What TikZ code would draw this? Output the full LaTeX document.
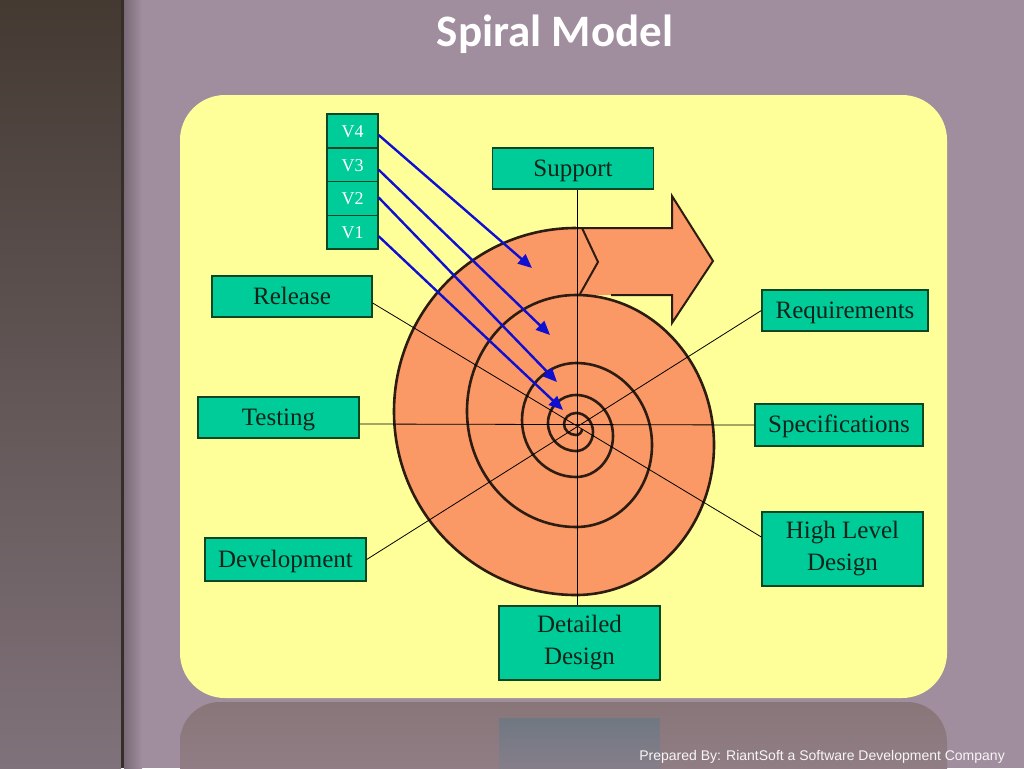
\documentclass[tikz,border=0pt]{standalone}
\usepackage{fontspec}
\setmainfont{Liberation Serif}
\newfontfamily\titlefont{Carlito}
\newfontfamily\footfont{Liberation Sans}
\definecolor{slide}{RGB}{160,141,157}
\definecolor{bandtop}{RGB}{68,58,50}
\definecolor{bandbot}{RGB}{128,114,122}
\definecolor{panel}{RGB}{255,255,153}
\definecolor{mirror}{RGB}{136,118,121}
\definecolor{mirrorlow}{RGB}{152,132,144}
\definecolor{mirrorbox}{RGB}{112,120,130}
\definecolor{boxfill}{RGB}{0,204,153}
\definecolor{boxline}{RGB}{10,70,35}
\definecolor{boxtext}{RGB}{15,35,25}
\definecolor{coilfill}{RGB}{250,152,102}
\definecolor{coilline}{RGB}{45,28,18}
\definecolor{vblue}{RGB}{15,15,210}
\usetikzlibrary{arrows.meta,calc}
\tikzset{
    phase/.style={
           rectangle,
           draw=boxline, line width=1.3pt,
           fill=boxfill,
           text=boxtext,
           minimum width=161pt,
           minimum height=41pt,
           inner sep=2pt,
           text height=18pt,
           text depth=3pt,
           align=center,
           font=\fontsize{25}{32}\selectfont,
           },
    twoline/.style={
           minimum height=74pt,
           text height=,
           text depth=,
           },
    ver/.style={
           phase,
           text=white,
           minimum width=51pt,
           minimum height=33.75pt,
           text height=12.5pt,
           text depth=0pt,
           font=\fontsize{18}{20}\selectfont,
           },
    spoke/.style={draw=black, line width=0.8pt},
    coil/.style={draw=coilline, line width=2.6pt},
    vline/.style={draw=vblue, line width=2.4pt, -{Triangle[length=14pt,width=12pt]}},
}
\newcommand{\PhSupport}{Support}
\newcommand{\PhReq}{Requirements}
\newcommand{\PhSpec}{Specifications}
\newcommand{\PhHld}{High Level\\Design}
\newcommand{\PhDd}{Detailed\\Design}
\newcommand{\PhDev}{Development}
\newcommand{\PhTest}{Testing}
\newcommand{\PhRel}{Release}

\begin{document}
\begin{tikzpicture}[x=1pt, y=-1pt]
  \useasboundingbox (0,0) rectangle (1024,768);
  % slide background
  \fill[slide] (0,0) rectangle (1024,768);
  \shade[top color=bandtop, bottom color=bandbot] (0,0) rectangle (121,768);
  \fill[bandtop!80!black] (121,0) rectangle (124,768);
  \shade[left color=slide!75!black, right color=slide] (124,0) rectangle (142,768);
  \fill[panel, rounded corners=45pt] (180,95) rectangle (947,698);
  \shade[top color=mirror, bottom color=mirrorlow, rounded corners=40pt] (180,702) rectangle (947,830);
  \shade[top color=mirrorbox, bottom color=mirrorlow!85!mirrorbox] (499,718) rectangle (660,800);

  \node[font=\titlefont\bfseries\fontsize{45}{54}\selectfont, text=white, anchor=base] (title) at (555,47) {Spiral Model};
  \node[font=\footfont\fontsize{14}{16}\selectfont, text=white!92!slide, anchor=base east, inner sep=0pt] (foot) at (1005,760)
       {Prepared By: RiantSoft a Software Development Company};

  % spiral and arrow
  \fill[coilfill] (576,228) arc[start angle=270, end angle=90, x radius=182, y radius=183.5]
                            arc[start angle=90, end angle=-90, x radius=138, y radius=150] -- cycle;
  \fill[coilfill] (576,228) -- (672,228) -- (672,196) -- (713,261) -- (672,323) -- (672,295) -- (576,295) -- cycle;
  \draw[coil] (576,228) arc[start angle=270, end angle=90, x radius=182, y radius=183.5]
                        arc[start angle=90, end angle=-90, x radius=138, y radius=150]
                        arc[start angle=270, end angle=90, x radius=109, y radius=116]
                        arc[start angle=90, end angle=-90, x radius=76, y radius=82]
                        arc[start angle=270, end angle=90, x radius=54, y radius=57]
                        arc[start angle=90, end angle=-90, x radius=37, y radius=41]
                        arc[start angle=270, end angle=90, x radius=28, y radius=28]
                        arc[start angle=90, end angle=-90, x radius=17, y radius=19]
                        arc[start angle=270, end angle=90, x radius=12, y radius=11]
                        arc[start angle=90, end angle=0, x radius=6, y radius=6];
  \draw[coilline, line width=2pt, line join=miter]
        (582,228) -- (672,228) -- (672,196) -- (713,261) -- (672,323) -- (672,295) -- (611,295);
  \draw[coilline, line width=2pt] (576,228) -- (582,228) -- (598,262) -- (580,294);

  % phases
  \node[phase]                                           (sup)  at (573,  168.5) {\PhSupport};
  \node[phase, minimum width=166pt]                      (req)  at (845,  310.5) {\PhReq};
  \node[phase, minimum width=168pt, minimum height=42pt] (spec) at (839,  425)   {\PhSpec};
  \node[phase, twoline]                                  (hld)  at (842.5,549)   {\PhHld};
  \node[phase, twoline]                                  (dd)   at (579.5,643)   {\PhDd};
  \node[phase, minimum height=43pt]                      (dev)  at (285.5,559.5) {\PhDev};
  \node[phase]                                           (tst)  at (278.5,417.5) {\PhTest};
  \node[phase, minimum width=160pt]                      (rel)  at (292,  296.5) {\PhRel};

  \draw[spoke] ([xshift=4pt]sup.south)  -- ([xshift=-2.5pt]dd.north);
  \draw[spoke] ([yshift=-6.5pt]tst.east) -- (spec.west);
  \draw[spoke] ([yshift=-6.5pt]rel.east) -- ([yshift=12pt]hld.west);
  \draw[spoke] (req.west) -- (dev.east);

  % versions
  \node[ver] (v4) at (352.5,131)    {V4};
  \node[ver] (v3) at (352.5,164.75) {V3};
  \node[ver] (v2) at (352.5,198.5)  {V2};
  \node[ver] (v1) at (352.5,232.25) {V1};
  \coordinate (t4) at (532,268);
  \coordinate (t3) at (550,335);
  \coordinate (t2) at (557,382);
  \coordinate (t1) at (563,410);
  \draw[vline] ([yshift=-4pt]v4.east) -- (t4);
  \draw[vline] ([yshift=-5pt]v3.east) -- (t3);
  \draw[vline] ([yshift=1pt]v2.east)  -- (t2);
  \draw[vline] ([yshift=-4pt]v1.east) -- (t1);
\end{tikzpicture}
\end{document}
